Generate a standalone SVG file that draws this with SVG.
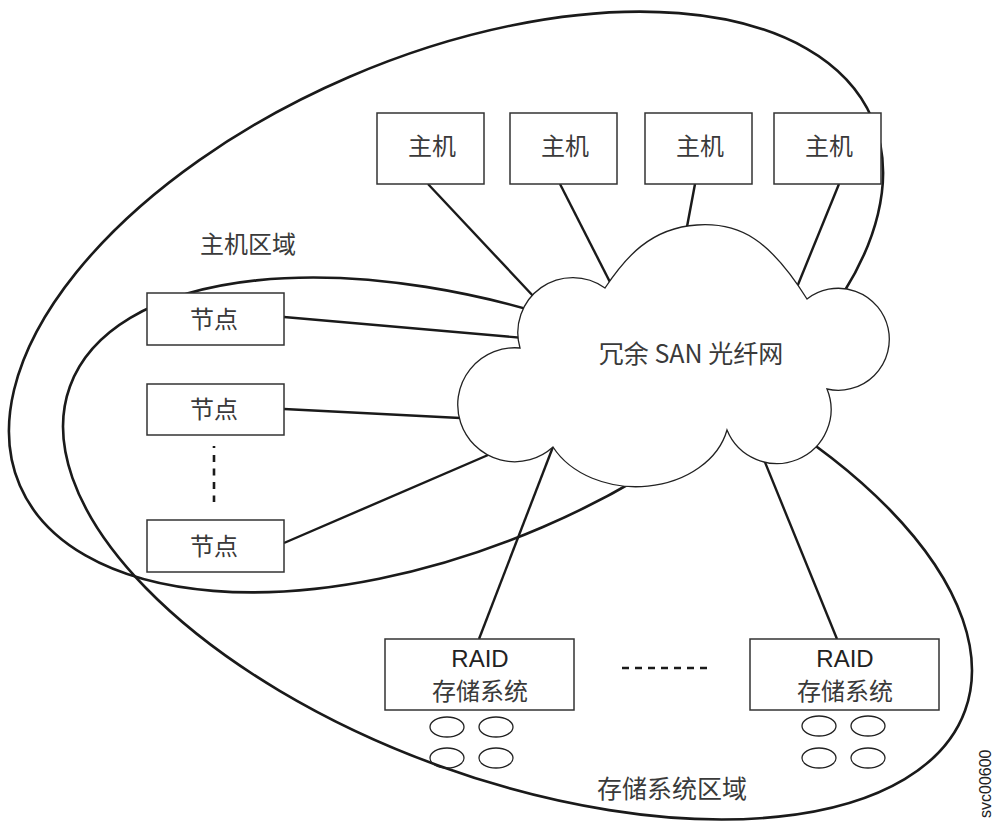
<svg xmlns="http://www.w3.org/2000/svg" width="994" height="822" viewBox="0 0 994 822">
<style>
.zone{fill:none;stroke:#1a1a1a;stroke-width:2.6}
.conn{fill:none;stroke:#1a1a1a;stroke-width:2.4}
.box{fill:#fff;stroke:#333;stroke-width:1.5}
.cloud{fill:#fff;stroke:#222;stroke-width:1.3}
.disk{fill:none;stroke:#222;stroke-width:1.3}
.dots{fill:none;stroke:#1a1a1a;stroke-width:2.6}
.cjk{font-family:"Noto Sans CJK SC","Noto Sans CJK JP",sans-serif;fill:#3a3a3a;text-anchor:middle}
.lat{font-family:"Liberation Sans",Arial,sans-serif;fill:#222;text-anchor:middle}
</style>
<rect x="0" y="0" width="994" height="822" fill="#fff"/>

<g id="zones">
  <ellipse id="host-zone" class="zone" cx="446" cy="302" rx="464" ry="245" transform="rotate(-23.3 446 302)"/>
  <ellipse id="storage-zone" class="zone" cx="517.5" cy="548.5" rx="476" ry="231" transform="rotate(19.9 517.5 548.5)"/>
</g>

<g id="connectors">
  <line class="conn" x1="428" y1="184" x2="535" y2="298"/>
  <line class="conn" x1="560" y1="184" x2="613" y2="288"/>
  <line class="conn" x1="695" y1="184" x2="686" y2="232"/>
  <line class="conn" x1="839" y1="184" x2="795" y2="292"/>
  <line class="conn" x1="284" y1="317" x2="524" y2="338"/>
  <line class="conn" x1="284" y1="409" x2="470" y2="418.5"/>
  <line class="conn" x1="284" y1="543" x2="502" y2="449"/>
  <line class="conn" x1="556" y1="439" x2="479" y2="639"/>
  <line class="conn" x1="760" y1="450" x2="837" y2="639"/>
  <line class="dots" x1="214" y1="446" x2="214" y2="502" stroke-dasharray="2 7 7 6.5 7 6.5 7 6.5 7"/>
  <line class="dots" x1="622" y1="668" x2="707" y2="668" stroke-dasharray="7 6"/>
</g>

<g id="san">
  <path class="cloud" d="M605,288 A55,55 0 0 0 520,348 A57,57 0 1 0 553,447 A93,72 0 0 0 727,430 A54,54 0 0 0 827,389 A51,51 0 1 0 807,299 C770,240 740,222 697,225 C650,228 625,258 605,288 Z"/>
  <text class="cjk" x="691" y="363" font-size="25">冗余 SAN 光纤网</text>
</g>

<g id="host1"><rect class="box" x="377" y="113" width="107" height="71"/><text class="cjk" x="432" y="155" font-size="24">主机</text></g>
<g id="host2"><rect class="box" x="510" y="113" width="107" height="71"/><text class="cjk" x="565" y="155" font-size="24">主机</text></g>
<g id="host3"><rect class="box" x="645" y="113" width="107" height="71"/><text class="cjk" x="700" y="155" font-size="24">主机</text></g>
<g id="host4"><rect class="box" x="774" y="113" width="107" height="71"/><text class="cjk" x="829" y="155" font-size="24">主机</text></g>

<g id="node1"><rect class="box" x="147" y="293" width="137" height="52"/><text class="cjk" x="214" y="328" font-size="24">节点</text></g>
<g id="node2"><rect class="box" x="147" y="384" width="137" height="51"/><text class="cjk" x="214" y="418" font-size="24">节点</text></g>
<g id="node3"><rect class="box" x="147" y="520" width="137" height="52"/><text class="cjk" x="214" y="555" font-size="24">节点</text></g>

<g id="raid1">
  <rect class="box" x="385" y="639" width="189" height="71"/>
  <text class="lat" x="480" y="667" font-size="24">RAID</text>
  <text class="cjk" x="480" y="700" font-size="24">存储系统</text>
  <ellipse class="disk" cx="447" cy="727" rx="17" ry="10"/>
  <ellipse class="disk" cx="496" cy="727" rx="17" ry="10"/>
  <ellipse class="disk" cx="447" cy="758" rx="17" ry="10"/>
  <ellipse class="disk" cx="496" cy="758" rx="17" ry="10"/>
</g>
<g id="raid2">
  <rect class="box" x="750" y="639" width="189" height="71"/>
  <text class="lat" x="845" y="667" font-size="24">RAID</text>
  <text class="cjk" x="845" y="700" font-size="24">存储系统</text>
  <ellipse class="disk" cx="819" cy="726" rx="17" ry="10"/>
  <ellipse class="disk" cx="868" cy="726" rx="17" ry="10"/>
  <ellipse class="disk" cx="819" cy="758" rx="17" ry="10"/>
  <ellipse class="disk" cx="868" cy="758" rx="17" ry="10"/>
</g>

<g id="labels">
  <text class="cjk" x="248" y="253" font-size="24">主机区域</text>
  <text class="cjk" x="672" y="798" font-size="25">存储系统区域</text>
  <text font-family="'Liberation Sans',Arial,sans-serif" font-size="16" fill="#222" transform="translate(991 818) rotate(-90)">svc00600</text>
</g>
</svg>
